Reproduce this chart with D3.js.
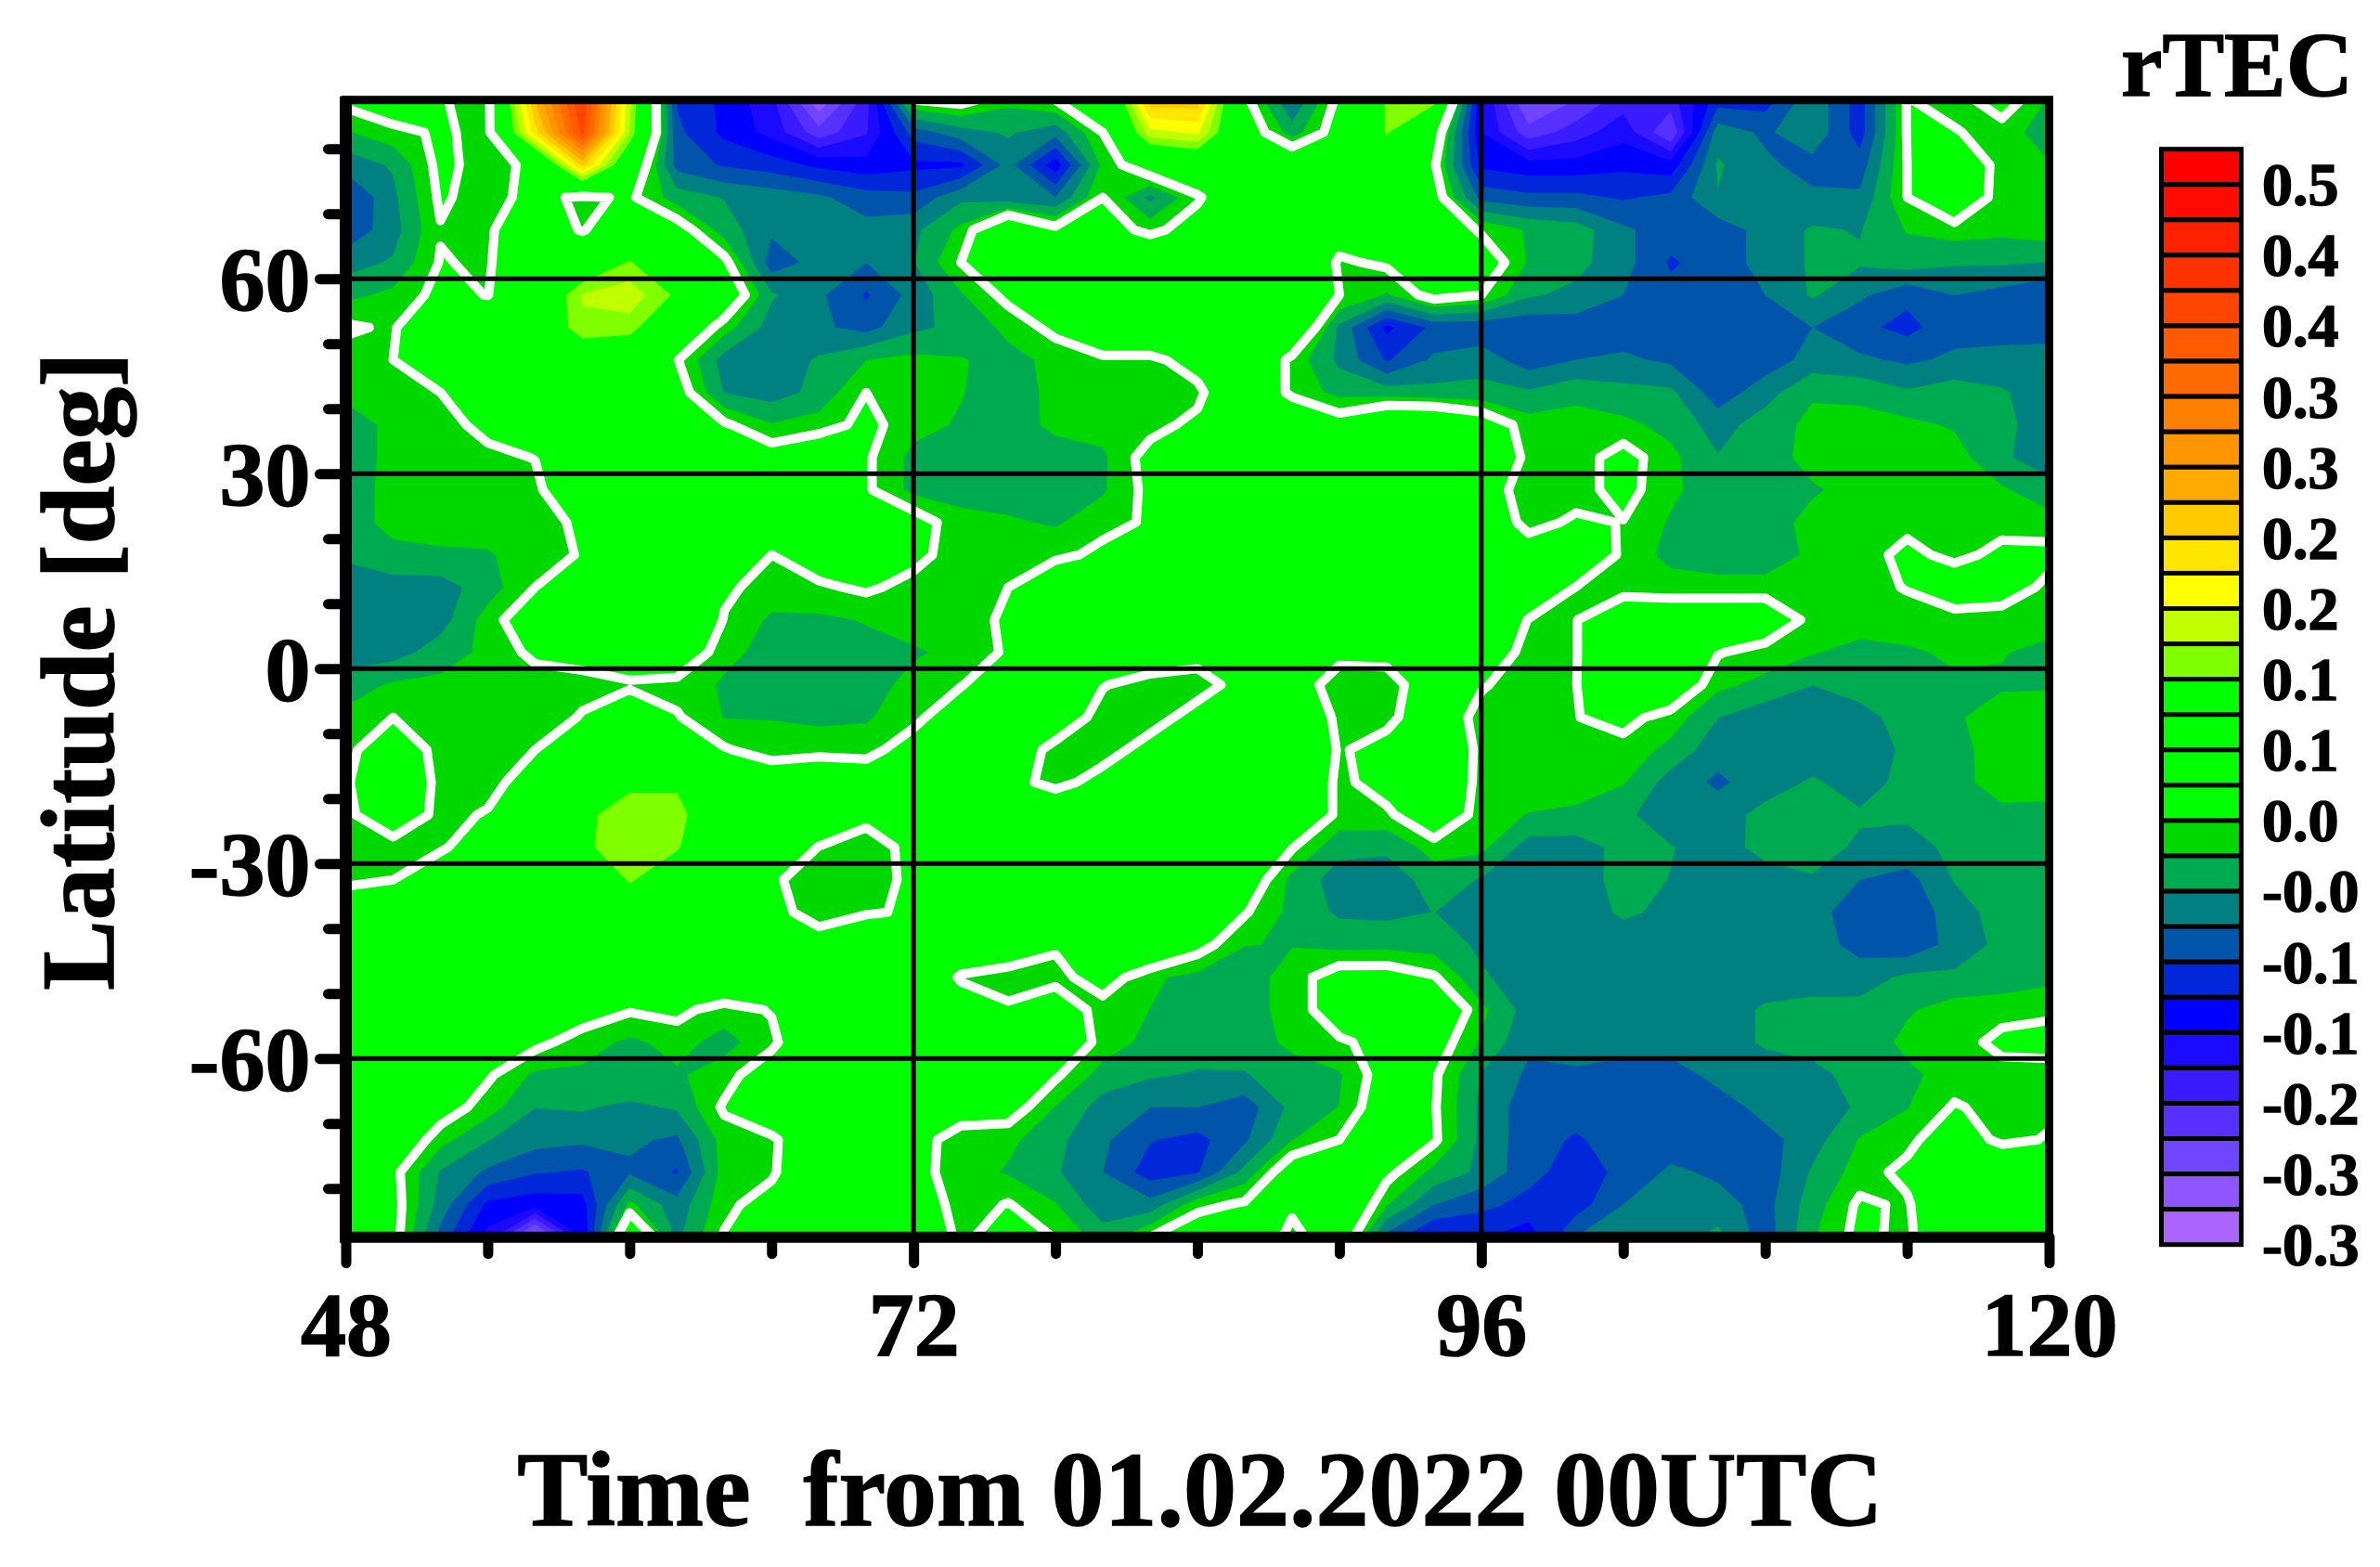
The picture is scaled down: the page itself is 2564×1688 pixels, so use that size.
<!DOCTYPE html>
<html>
<head>
<meta charset="utf-8">
<title>rTEC</title>
<script src="https://cdn.jsdelivr.net/npm/d3@7"></script>
<style>
  html, body { margin: 0; padding: 0; background: #fff; }
  text { font-family: "Liberation Serif", serif; font-weight: bold; fill: #000; stroke: #000; stroke-width: 1.5px; white-space: pre; }
</style>
</head>
<body>
<div id="chart"></div>
<script>
/* Grid axes of the map. */
const timeHours = [48, 50, 52, 54, 56, 58, 60, 62, 64, 66, 68, 70, 72, 74, 76, 78, 80, 82, 84,
  86, 88, 90, 92, 94, 96, 98, 100, 102, 104, 106, 108, 110, 112, 114, 116, 118, 120]
const latitudes = [87.5, 82.5, 77.5, 72.5, 67.5, 62.5, 57.5, 52.5, 47.5, 42.5, 37.5, 32.5, 27.5, 22.5,
  17.5, 12.5, 7.5, 2.5, -2.5, -7.5, -12.5, -17.5, -22.5, -27.5, -32.5, -37.5, -42.5, -47.5, -52.5,
  -57.5, -62.5, -67.5, -72.5, -77.5, -82.5, -87.5]

/* rTEC, in hundredths. One row per latitude, one value per time. */
const rtecRows = [
  [3,5,2.2,1,26,42,16,-9,-12,-16,-27,-18,2, 3,0,2,3,25,25,3,-6,3,13,14,-14, -25,-22,-18,-18,-10,-10,-4,-10,2.2,0.5,4,-1],
  [-1,1,2.5,1,22,40,15,-8,-12,-15,-21,-17,-7.5, -4.5,-3,-5,2,17,18.5,5,-2,4,13,5,-14, -21,-18,-15,-22,-4.5,-6.5,-4,-10,2.2,2.3,0.5,-2],
  [-5,-3,3,0.5,3,24,7,-7,-9,-10,-12,-13,-12, -12,-5,-13,0,5,7,8,7,7,8,2.5,-12, -13,-13,-12,-13,-3,-5.5,-7,-7.5,2,8,0,-0.5],
  [-9,-4,2.5,0.5,3.4,1.2,2.6,-2,-3.5,-4.5,-5.5,-7.5,-8, -4,-5,-6,2,-4,1.5,7,8,8,8,4,-7, -8,-8,-9,-8,-3.5,-5.5,-5.5,-5.5,2,7,0,0.5],
  [-8,-4.5,1.8,1.5,5,1.7,6,4,-2,-5.5,-5,-5,-4, 0,8,3,4,1,4,8,8,4,8,6,1.5, -1,-2,-5.5,-7.5,-7.5,-5,-3,-3.5,-0.5,0.5,0,0.8],
  [-4.5,-3,2.2,1.5,7,8,13,7,3,-7.5,-5,-6,-3.5, 2,8,7,8,8,8,8,8,1.5,2.6,7,5, -1,-2.5,-5,-9,-7.5,-5,-3,-3,-2,-3,-3,-3.4],
  [-1.5,0,3,1.9,7,15.5,17,12,6,-3,-5.5,-9,-5, -1,3,8,8,8,8,8,8,2,-1,3.5,2, -3,-4,-6,-8,-7.5,-6,-3,-5.5,-8,-6,-7,-8.5],
  [2.5,1.5,8,7,7,15,14,7,0.5,-4.5,-5.5,-7,-4, -2.5,0,3,8,8,8,8,8,-4,-12,-8,-8, -8,-7.5,-7.5,-8,-8,-8,-6,-8,-9.5,-7,-7,-7],
  [0.5,2,7,8,7,8,8,2.2,-4.5,-5,-3,-0.7,0, -0.5,-1.5,0,1,1,4,8,1,-4,-9,-5.5,-4.5, -7.5,-6,-5.5,-6.5,-8,-7.5,-5,-5.5,-6.5,-5.5,-5.2,-5],
  [0,0.5,2,7,8,8,8,4,-3.5,-4.6,-2.5,2,0.5, -0.5,-2.5,0.3,0.5,0.5,1,8,1,-1.5,-2,-2.5,-2.5, -3,-1.5,-2.5,-2.8,-7.5,-4.5,-1,-1.5,-3,-2,-3,-5],
  [-2,0,0.8,3,8,8,8,8,2.5,-0.5,0.5,3,0.3, -1,-2.5,0.2,0.5,0.8,3,7,8,4,8,8,5, 0.5,0.5,0,-1.5,-4.5,-2,0,0.5,0,-1,-2.5,-5],
  [-2,0,0.5,1.2,2.1,8,8,8,8,4,6,2.5,-1.5, -2,-2.5,-2.5,-1.2,3.5,8,8,8,8,8,8,8, 0.8,0.5,3.5,0,-3.2,-2,0.3,0.5,0.5,0.5,-3,-4.5],
  [-2.5,0.5,0.6,0.8,1,7,8,8,8,8,8,2.5,-1.5, -1.5,-2,-2,-1,3,8,8,8,8,8,8,4, 0.5,0.8,3.2,0,-2.5,-2.5,-1,0.3,0.5,0.5,-0.3,-2.5],
  [-2,0.2,0.8,0.8,1,2.5,8,8,2.2,4,8,7,4, 0,-0.3,-1,0.8,2.5,8,8,8,8,8,8,5, 1,2.5,1.9,-1,-2,-2,0.2,0.5,1,1,0.8,0.5],
  [-3,-1.5,-1.2,-1,1,2.2,8,8,2.5,2,4,6,3, 0.5,0.5,1,3,8,8,8,8,8,8,8,8, 4,8,1,-1.5,-2.5,-2.5,0,0.5,3,1,3,3],
  [-4.5,-4.5,-4.5,-2,2,8,8,8,2.5,1,1.5,2.5,1, 0.8,2,7,8,8,8,8,8,8,8,8,8, 7,1.9,0.8,0.5,0.5,0.5,0.5,0.8,2.2,5,4,1.2],
  [-5,-4.5,-4.5,0.5,5,8,8,8,1.8,-1.2,-1.2,-0.5,0.5, 0.8,2.5,8,8,8,8,8,8,8,8,8,8, 1.8,1.9,5,5,5,5,1,0.5,0.5,0.5,0.5,0.5],
  [-4.8,-4.5,-2,0,2.8,3,5,6,0,-1.5,-1.5,-1.5,-1, 0,2.5,8,8,5,3,8,8,3,3,8,5, 0.8,1.9,5,6,2.2,0.8,-0.5,-1.5,-1,-0.3,-0.5,-1.5],
  [-2,-0.3,0,0.5,0.5,1.2,1.5,0.8,-1,-2,-2,-2,0.3, 1.8,5,5.5,2.2,0.5,1,3,4,0.5,0.8,4,2.3, 0.5,1.9,7,6,0,-1.5,-3.3,-2,-2,-1,-1,-1],
  [0,2,0.6,0.5,0.5,2.2,5,2.3,-0.8,-0.8,-1.2,-1,1, 5,8,5,0.5,1,3,8,8,0.8,1,5,0.8, 0.8,1.9,3,0.8,-3.3,-5,-5.5,-4.5,-2,-1,0.5,0.8],
  [1,5,0.8,0.5,2,7,8,6,2.3,0.5,0.6,0.8,4, 8,5,0.8,1,3,6,8,8,1.6,3.5,8,0.8, 0.5,1,1,-1.5,-5,-5,-4.8,-5,-2.8,-1.5,0.5,0.8],
  [1.5,7,0.8,0.8,4,8,12,12,8,5,7,5,5, 8,3,1.2,3,7,8,8,8,1,4,7,0.8, 1,0.5,-0.5,-4.5,-6.5,-4.6,-3,-4.5,-2.5,-1.5,0.4,0.4],
  [1.2,5,1,2.3,7,12,14,14,8,8,8,3,7, 8,8,5,8,8,8,8,8,1,1.2,6,0.5, -0.8,-1.2,-2.8,-4.8,-4.6,-2.5,-2,-3,-3,-1.7,-1.3,-1.5],
  [0,0.6,1.2,6,7,12,14.5,13,8,8,1.8,0.5,3, 8,8,8,8,8,8,8,2.2,-2.5,-2.8,0.5,0, -4.6,-4.6,-2.5,-3.2,-4.6,-2.4,-2.2,-3.8,-4.2,-2.8,-1.5,-1.5],
  [0.5,2,7,8,8,8,13,10,8,2.5,0.5,0.5,2.8, 8,8,8,8,8,8,5,-1.5,-4.6,-4.8,-2.2,-3.5, -4.6,-4.5,-2.5,-3.4,-4.6,-4.6,-3.6,-6,-7,-3.2,-1.5,-1.5],
  [8,8,8,8,8,8,10,8,8,3,0.8,1.5,2.6, 8,8,8,8,8,8,2.3,-1.5,-3.8,-4,-3.3,-4.8, -4.6,-4.5,-3,-3.8,-4.6,-5,-5,-7.5,-8,-4.6,-2.2,-1.5],
  [8,8,8,8,8,8,8,8,8,8,3.5,8,8, 7,5,2.5,8,8,3.5,-0.6,-0.8,-1.6,-1.5,-2,-3.8, -4.6,-4.5,-4.5,-4.6,-4.6,-4.6,-4.7,-7,-8,-5,-2.6,-1.5],
  [8,8,8,8,8,8,8,8,8,8,8,8,8, 1.5,0.6,0.8,4,-0.2,-1.5,-2,0.5,4,4,2.3,-3, -4.6,-4.6,-4.6,-4.6,-4.6,-4.6,-4.6,-4.6,-2.8,-2.8,-2.5,-1.5],
  [8,8,8,8,8,4,2.3,3,0.5,2.3,8,8,8, 5,2.5,5,0.5,-0.7,-1.8,-2,0.5,4,5,7,0, -4.6,-4.6,-4.6,-4.6,-4.6,-3,-2.5,-2.5,-1,0.5,1,1.5],
  [8,8,8,8,3,0.5,-1.2,0.2,-1.6,1,8,8,8, 8,8,6,0.8,-1.5,-2,-2.2,0,1.6,3,4,-1, -5.5,-4.6,-4.6,-4.6,-4.6,-3,-2.5,-2.4,0,0.8,2.8,3],
  [8,8,8,2.5,-1.2,-1.2,-0.7,-1,0.5,5,8,8,8, 8,8,2.5,-1.8,-3,-3.6,-3.5,-2,-1,4,2.5,-3.5, -6.5,-6.5,-7.5,-7.5,-5,-4.6,-4,-2.5,-1.3,0.5,1,1],
  [8,8,4,0.5,-3.3,-3,-4,-3,2.5,8,8,8,8, 4,4,-0.8,-4.5,-6,-6,-7.5,-2.6,-0.6,5,2.3,-4, -7.5,-7.5,-7.5,-7.5,-7.5,-5,-4.7,-3,-0.8,2.3,1,1.2],
  [8,6,0.3,-3.2,-5,-5.5,-5.5,-6.5,0.5,1,8,8,3.5, 0.5,0,-2.6,-5.5,-8.5,-9.5,-6.5,-0.8,2,8,2.5,-4, -7.5,-9,-7.5,-7.5,-7.5,-7,-4.5,-0.5,1,5,1,2.3],
  [8,3,-3.6,-6.5,-8.5,-9,-6.5,-9,0.5,1.3,8,8,3, 0.8,-1,-3,-6,-10,-9,-2.5,5,8,3,-1.5,-4, -7.8,-10,-8,-5.5,-6.5,-7.5,-3,0.5,3,8,8,8],
  [8,3.5,-4.5,-12,-13,-12.5,0,-5,1,4,8,8,5, 0.5,2.2,-0.5,-5,-5,1,2.5,3,8,-0.5,-6,-8, -9.5,-10,-6,-4.6,-5,-7,-2,2.6,1.5,8,8,8],
  [8,3.5,-7,-15,-28,-14,8,-4,2.3,8,8,8,8, 0.8,5,1.8,-2,2,5,8,0.5,6,-7,-12,-11, -13,-6,-4.6,-5,-2.5,-7.5,-1,3,1,8,8,8]
]

/* Colour bar, top to bottom, and its labels. */
const bandColors = ["#ff0000", "#ff0a00", "#ff2000", "#ff3300", "#ff4500", "#ff5a00", "#ff6a00", "#ff8000",
  "#ff9500", "#ffaa00", "#ffca00", "#ffe600", "#ffff00", "#bfff00", "#80ff00", "#00ff00", "#00ff00", "#00ff00",
  "#00ff00", "#00d800", "#00aa50", "#008080", "#0055aa", "#0028d8", "#0000ff", "#1a0aff", "#3a1aff", "#5530ff",
  "#6f45ff", "#8f55ff", "#aa66ff"]
const legendLabels = ["0.5", "0.4", "0.4", "0.3", "0.3", "0.2", "0.2", "0.1", "0.1", "0.0",
  "-0.0", "-0.1", "-0.1", "-0.2", "-0.3", "-0.3"]

const xMajorTicks = [48, 72, 96, 120]
const xMinorTicks = [54, 60, 66, 78, 84, 90, 102, 108, 114]
const yMajorTicks = [60, 30, 0, -30, -60]
const yMinorTicks = [80, 70, 50, 40, 20, 10, -10, -20, -40, -50, -70, -80]

/* Band limits in hundredths. The white line follows the limit at 2. */
const bandStep = 8 / 3
const whiteLevel = 2
const levels = bandColors.map((d, i) => 50 - (i - 1) * bandStep).slice(1)

/* Create svg-element. */
const svg = d3.select("#chart")
  .append("svg")
  .attr("width", 2564)
  .attr("height", 1688)
  .style("display", "block")

/* Create scales. */
const x = d3.scaleLinear().domain([48, 120]).range([372.5, 2207.5])
const y = d3.scaleLinear().domain([87.5, -87.5]).range([107.7, 1332.7])
const legendY = d3.scaleLinear().domain([0, bandColors.length]).range([160.7, 1340.7])

/* Clip the map to the inside of the frame. */
svg.append("defs")
  .append("clipPath")
  .attr("id", "plot-clip")
  .append("rect")
  .attr("x", x(48))
  .attr("y", y(87.5))
  .attr("width", x(120) - x(48))
  .attr("height", y(-87.5) - y(87.5))

const map = svg.append("g").attr("clip-path", "url(#plot-clip)")

/* Contour cells are centred on half coordinates, so go back to time and latitude from there. */
const gridPath = d3.geoPath(d3.geoTransform({
  point(px, py) {
    const t = 48 + (px - 0.5) * (timeHours[1] - timeHours[0])
    const lat = 87.5 + (py - 0.5) * (latitudes[1] - latitudes[0])
    this.stream.point(x(t), y(lat))
  }
}))

const contours = d3.contours()
  .size([timeHours.length, latitudes.length])
  .thresholds(levels.slice().reverse())

const grid = rtecRows.flat()

/* Base colour below the lowest limit. */
map.append("rect")
  .attr("x", x(48))
  .attr("y", y(87.5))
  .attr("width", x(120) - x(48))
  .attr("height", y(-87.5) - y(87.5))
  .attr("fill", bandColors[bandColors.length - 1])

/* Draw filled bands, lowest first. */
const bandColor = value => bandColors[levels.findIndex(l => Math.abs(l - value) < 1e-6)]

map.selectAll("path.band")
  .data(contours(grid))
  .enter()
  .append("path")
  .attr("class", "band")
  .attr("d", gridPath)
  .attr("fill", d => bandColor(d.value))
  .attr("stroke", d => bandColor(d.value))
  .attr("stroke-width", 0.5)

/* White line. */
map.append("path")
  .datum(d3.contours().size([timeHours.length, latitudes.length]).contour(grid, whiteLevel))
  .attr("d", gridPath)
  .attr("fill", "none")
  .attr("stroke", "#fff")
  .attr("stroke-width", 10)
  .attr("stroke-linejoin", "round")

/* Grid lines. */
svg.selectAll("line.grid-y")
  .data(yMajorTicks)
  .enter()
  .append("line")
  .attr("class", "grid-y")
  .attr("x1", x(48))
  .attr("x2", x(120))
  .attr("y1", d => y(d))
  .attr("y2", d => y(d))
  .attr("stroke", "#000")
  .attr("stroke-width", 5)

svg.selectAll("line.grid-x")
  .data([72, 96])
  .enter()
  .append("line")
  .attr("class", "grid-x")
  .attr("x1", d => x(d))
  .attr("x2", d => x(d))
  .attr("y1", y(87.5))
  .attr("y2", y(-87.5))
  .attr("stroke", "#000")
  .attr("stroke-width", 5)

/* Frame. Left and bottom sides are heavier. */
svg.append("rect")
  .attr("x", x(48))
  .attr("y", y(87.5))
  .attr("width", x(120) - x(48))
  .attr("height", y(-87.5) - y(87.5))
  .attr("fill", "none")
  .attr("stroke", "#000")
  .attr("stroke-width", 9)
svg.append("line")
  .attr("x1", x(48)).attr("x2", x(48))
  .attr("y1", y(87.5) - 4).attr("y2", y(-87.5) + 6)
  .attr("stroke", "#000").attr("stroke-width", 13)
svg.append("line")
  .attr("x1", x(48)).attr("x2", x(120) + 4)
  .attr("y1", y(-87.5)).attr("y2", y(-87.5))
  .attr("stroke", "#000").attr("stroke-width", 12)

/* Axes, with ticks only. Labels come from the major axes. */
function styleTicks(g, width) {
  g.select(".domain").remove()
  g.selectAll("line")
    .attr("stroke", "#000")
    .attr("stroke-width", width)
    .attr("stroke-linecap", "round")
}

svg.append("g")
  .attr("transform", `translate(${x(48)},0)`)
  .call(d3.axisLeft(y).tickValues(yMinorTicks).tickSize(19).tickFormat(""))
  .call(styleTicks, 11)

svg.append("g")
  .attr("transform", `translate(${x(48)},0)`)
  .call(d3.axisLeft(y).tickValues(yMajorTicks).tickSize(28).tickPadding(10).tickFormat(d => String(d)))
  .call(styleTicks, 11)
  .call(g => g.selectAll("text")
    .attr("x", -38)
    .attr("dy", "0.34em")
    .attr("text-anchor", "end")
    .style("font-family", '"Liberation Serif", serif')
    .style("font-size", "98px")
    .style("font-weight", "bold"))

svg.append("g")
  .attr("transform", `translate(0,${y(-87.5)})`)
  .call(d3.axisBottom(x).tickValues(xMinorTicks).tickSize(18).tickFormat(""))
  .call(styleTicks, 11)

svg.append("g")
  .attr("transform", `translate(0,${y(-87.5)})`)
  .call(d3.axisBottom(x).tickValues(xMajorTicks).tickSize(28).tickFormat(d => String(d)))
  .call(styleTicks, 11)
  .call(g => g.selectAll("text")
    .attr("y", 127)
    .attr("dy", 0)
    .attr("text-anchor", "middle")
    .style("font-family", '"Liberation Serif", serif')
    .style("font-size", "98px")
    .style("font-weight", "bold"))

/* Axis titles. */
svg.append("text")
  .attr("x", 1293)
  .attr("y", 1643)
  .attr("text-anchor", "middle")
  .attr("font-size", 114)
  .text("Time  from 01.02.2022 00UTC")

svg.append("text")
  .attr("transform", "translate(122,723) rotate(-90)")
  .attr("text-anchor", "middle")
  .attr("font-size", 113)
  .text("Latitude [deg]")

/* Colour bar. */
const legend = svg.append("g")

legend.append("text")
  .attr("x", 2285)
  .attr("y", 103)
  .attr("font-size", 100)
  .text("rTEC")

legend.selectAll("rect")
  .data(bandColors)
  .enter()
  .append("rect")
  .attr("x", 2328.5)
  .attr("y", (d, i) => legendY(i))
  .attr("width", 86)
  .attr("height", legendY(1) - legendY(0))
  .attr("fill", d => d)
  .attr("stroke", "#000")
  .attr("stroke-width", 5)

legend.selectAll("text.legend-label")
  .data(legendLabels)
  .enter()
  .append("text")
  .attr("class", "legend-label")
  .attr("x", 2437)
  .attr("y", (d, i) => legendY(1 + i * 2))
  .attr("dy", "0.34em")
  .attr("font-size", 66)
  .text(d => d)
</script>
</body>
</html>
